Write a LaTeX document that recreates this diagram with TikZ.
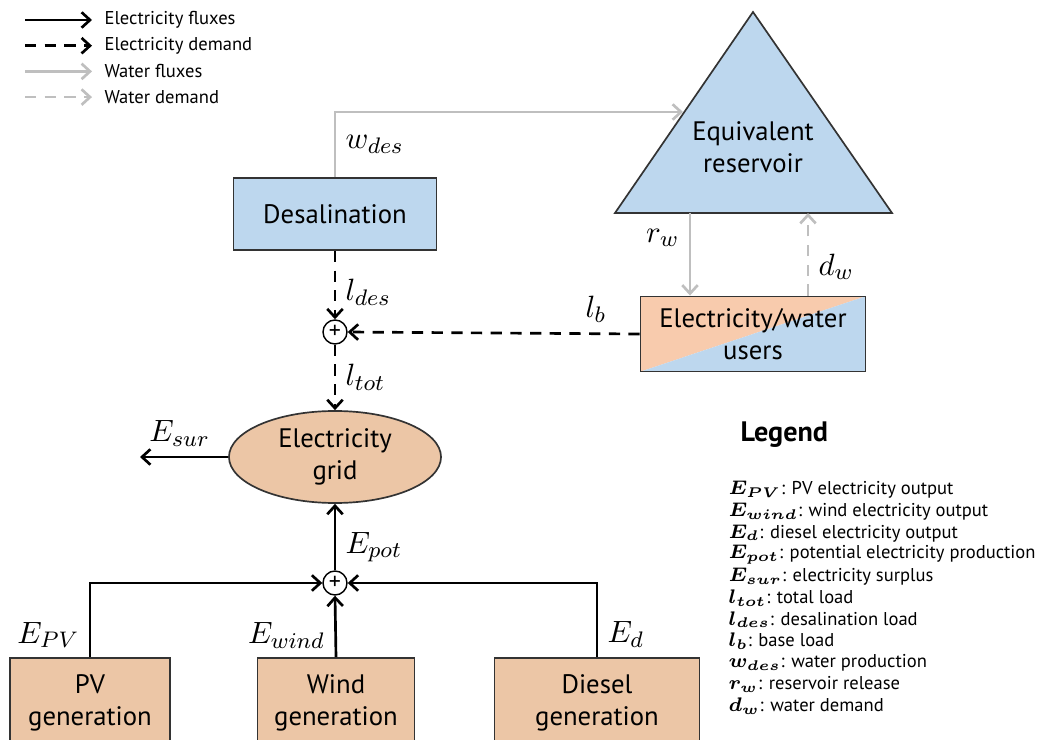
\documentclass[tikz,border=0pt]{standalone}
\usepackage{fontspec}
\setmainfont{PT Sans}
\usepackage{amsmath}
\usetikzlibrary{arrows.meta,shapes.geometric,positioning}

\definecolor{resblue}{HTML}{BDD7EE}
\definecolor{gentan}{HTML}{ECC6A6}
\definecolor{userpeach}{HTML}{F8CBAD}
\definecolor{watergray}{HTML}{BFBFBF}

\tikzset{
  block/.style={draw=black!80,line width=0.6pt,align=center,inner sep=0pt,
    font=\fontsize{9.5}{11.5}\selectfont},
  flowlabel/.style={font=\fontsize{11}{13}\selectfont},
  elec/.style={draw=black,line width=0.95pt},
  elecdem/.style={elec,dash pattern=on 4pt off 3pt},
  water/.style={draw=watergray,line width=0.95pt},
  waterdem/.style={water,dash pattern=on 4pt off 3pt},
  sumnode/.style={circle,draw=black,line width=0.5pt,fill=white,minimum size=0.3cm,
    inner sep=0pt,font=\fontsize{8.5}{8.5}\selectfont}
}

\begin{document}
\begin{tikzpicture}[x=0.0125cm,y=-0.0125cm,>={Straight Barb[length=3pt,width=5.5pt]}]
  \useasboundingbox (0,0) rectangle (1049,740);
  \clip (0,0) rectangle (1049,740);

  % key of the line styles
  \foreach \sty/\txt [count=\i] in {elec/Electricity fluxes,elecdem/Electricity demand,
      water/Water fluxes,waterdem/Water demand} {
    \coordinate (key\i a) at (25,{20+25.7*(\i-1)});
    \coordinate (key\i b) at (92,{20+25.7*(\i-1)});
    \draw[\sty,->] (key\i a) -- (key\i b);
    \node[anchor=west,inner sep=0pt,font=\fontsize{6.6}{8}\selectfont] (key\i) at (104,{20+25.7*(\i-1)}) {\txt};
  }

  % equivalent reservoir
  \coordinate (apex) at (753,12);
  \coordinate (resl) at (615,213);
  \coordinate (resr) at (892,213);
  \filldraw[fill=resblue,draw=black!80,line width=0.6pt] (resl) -- (apex) -- (resr) -- cycle;
  \node[align=center,font=\fontsize{9.5}{11.5}\selectfont] (res) at (753,147) {Equivalent\\reservoir};
  \coordinate (resin) at (683,112);
  \coordinate (resrw) at (690,213);
  \coordinate (resdw) at (808,213);

  % blocks
  \node[block,fill=resblue,minimum width=2.54cm,minimum height=0.9cm] (des) at (335,214) {Desalination};
  \node[block,minimum width=2.81cm,minimum height=0.94cm,
    path picture={
      \fill[userpeach] (path picture bounding box.south west) -- (path picture bounding box.north west)
        -- (path picture bounding box.north east) -- cycle;
      \fill[resblue] (path picture bounding box.south west) -- (path picture bounding box.north east)
        -- (path picture bounding box.south east) -- cycle;}] (users) at (753,334) {Electricity/water\\users};
  \node[sumnode] (sum1) at (335,332) {+};
  \node[ellipse,block,fill=gentan,minimum width=2.65cm,minimum height=1.15cm] (grid) at (335,457) {Electricity\\grid};
  \node[sumnode] (sum2) at (335,583) {+};
  \node[block,fill=gentan,minimum width=2.0cm,minimum height=1.125cm] (pv) at (90,703) {PV\\generation};
  \node[block,fill=gentan,minimum width=1.96cm,minimum height=1.125cm] (wind) at (336,703) {Wind\\generation};
  \node[block,fill=gentan,minimum width=2.56cm,minimum height=1.125cm] (diesel) at (597,703) {Diesel\\generation};
  \coordinate (sur) at (140,457);

  % water
  \draw[water,->] (des.north) |- node[flowlabel,pos=.25,right] {$w_{des}$} (resin);
  \draw[water,->] (resrw) -- node[flowlabel,pos=.3,left] {$r_w$} (resrw |- users.north);
  \draw[waterdem,->] (users.north -| resdw) -- node[flowlabel,pos=.35,right] {$d_w$} (resdw);

  % electricity demand
  \draw[elecdem,->] (des.south) -- node[flowlabel,pos=.6,right] {$l_{des}$} (sum1.north);
  \draw[elecdem,->] (users.west) -- node[flowlabel,pos=.15,above] {$l_b$} (sum1.east);
  \draw[elecdem,->] (sum1.south) -- node[flowlabel,right] {$l_{tot}$} (grid.north);

  % electricity fluxes
  \draw[elec,->] (grid.west) -- node[flowlabel,pos=.55,above] {$E_{sur}$} (sur);
  \draw[elec,->] (sum2.north) -- node[flowlabel,pos=.35,right] {$E_{pot}$} (grid.south);
  \draw[elec,->] (pv.north) |- node[flowlabel,pos=.15,left] {$E_{PV}$} (sum2.west);
  \draw[elec,->] (wind.north) -- node[flowlabel,pos=.35,left] {$E_{wind}$} (sum2.south);
  \draw[elec,->] (diesel.north) |- node[flowlabel,pos=.15,right] {$E_d$} (sum2.east);

  % legend
  \node[anchor=west,inner sep=0pt,font=\fontsize{10}{12}\selectfont\bfseries] (legend) at (740,435) {Legend};
  \foreach \txt [count=\i] in {
      {$\boldsymbol{E_{PV}}$: PV electricity output},
      {$\boldsymbol{E_{wind}}$: wind electricity output},
      {$\boldsymbol{E_{d}}$: diesel electricity output},
      {$\boldsymbol{E_{pot}}$: potential electricity production},
      {$\boldsymbol{E_{sur}}$: electricity surplus},
      {$\boldsymbol{l_{tot}}$: total load},
      {$\boldsymbol{l_{des}}$: desalination load},
      {$\boldsymbol{l_{b}}$: base load},
      {$\boldsymbol{w_{des}}$: water production},
      {$\boldsymbol{r_{w}}$: reservoir release},
      {$\boldsymbol{d_{w}}$: water demand}} {
    \node[anchor=west,inner sep=0pt,font=\fontsize{6.6}{8}\selectfont] (item\i) at (728,{490+21.6*(\i-1)}) {\txt};
  }
\end{tikzpicture}
\end{document}
